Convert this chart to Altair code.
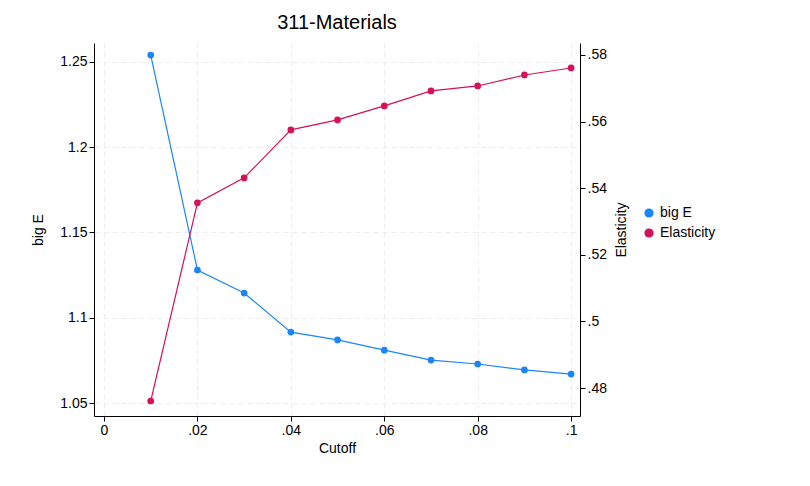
import altair as alt
import pandas as pd

cutoff = [0.01, 0.02, 0.03, 0.04, 0.05, 0.06, 0.07, 0.08, 0.09, 0.10]
big_e = [1.254, 1.128, 1.1145, 1.0916, 1.087, 1.081, 1.0752, 1.0729, 1.0694, 1.067]
elasticity = [0.4761, 0.5356, 0.5431, 0.5575, 0.5605, 0.5647, 0.5692, 0.5707, 0.574, 0.5761]

df = pd.DataFrame({"Cutoff": cutoff, "bigE": big_e, "Elasticity": elasticity})
df["s1"] = "big E"
df["s2"] = "Elasticity"

font = "Liberation Sans"
lab = "replace(format(datum.value, '~g'), '0.', '.')"
color = alt.Scale(domain=["big E", "Elasticity"], range=["#1a85ff", "#d41159"])
xax = alt.X("Cutoff:Q", scale=alt.Scale(domain=[-0.00214, 0.1019], nice=False, zero=False),
            axis=alt.Axis(values=[0, 0.02, 0.04, 0.06, 0.08, 0.1], labelExpr=lab, title="Cutoff",
                          gridDash=[5, 4], gridColor="#ececec"))
legend = alt.Legend(title=None, orient="none", legendX=548, legendY=163, labelFontSize=14,
                    symbolType="circle", labelFont=font, symbolSize=60, rowPadding=6)

left = alt.Chart(df).mark_line(point=alt.OverlayMarkDef(size=45, filled=True), strokeWidth=1.2).encode(
    x=xax,
    y=alt.Y("bigE:Q", scale=alt.Scale(domain=[1.0424, 1.2611], nice=False, zero=False),
            axis=alt.Axis(values=[1.05, 1.1, 1.15, 1.2, 1.25], format="~g", title="big E",
                          gridDash=[5, 4], gridColor="#ececec", titlePadding=14)),
    color=alt.Color("s1:N", scale=color, legend=legend),
)
right = alt.Chart(df).mark_line(point=alt.OverlayMarkDef(size=45, filled=True), strokeWidth=1.2).encode(
    x=xax,
    y=alt.Y("Elasticity:Q", scale=alt.Scale(domain=[0.4716, 0.5836], nice=False, zero=False),
            axis=alt.Axis(orient="right", values=[0.48, 0.5, 0.52, 0.54, 0.56, 0.58], labelExpr=lab,
                          title="Elasticity", grid=False, titlePadding=22, titleAngle=270)),
    color=alt.Color("s2:N", scale=color, legend=legend),
)

chart = alt.layer(left, right).resolve_scale(y="independent").properties(
    width=486, height=373,
    padding={"left": 23, "top": 5, "right": 5, "bottom": 5},
    title=alt.TitleParams("311-Materials", fontSize=20, font=font, fontWeight="normal", offset=10),
).configure_axis(
    labelFont=font, titleFont=font, labelFontSize=14, titleFontSize=14, titleFontWeight="normal",
    domainColor="#000", tickColor="#000", labelColor="#000", titleColor="#000",
).configure_view(stroke=None)

chart.save("out.html", embed_options={"renderer": "svg", "actions": False})
